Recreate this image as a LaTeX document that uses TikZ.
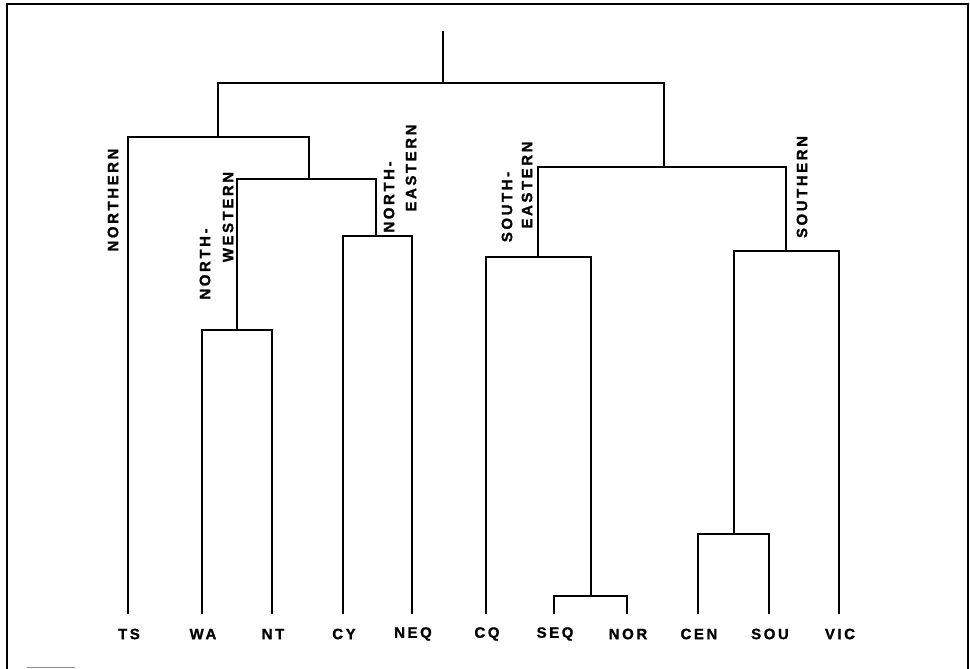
\documentclass[tikz,border=0pt]{standalone}
\usepackage{fontspec}
\newfontfamily\labfont[LetterSpace=17,FakeBold=1.2]{Liberation Sans Bold}
\begin{document}
\begin{tikzpicture}[x=1pt,y=-1pt,
  link/.style={line width=2.2pt,line join=miter,line cap=rect},
  frameline/.style={line width=1.5pt},
  leaflab/.style={font=\labfont\fontsize{15}{16}\selectfont,inner sep=0pt},
  grplab/.style={font=\labfont\fontsize{15}{16}\selectfont,inner sep=0pt,rotate=90}]
\useasboundingbox (0,0) rectangle (970,669);
% frame
\draw[frameline] (7,669) -- (7,4) -- (968,4) -- (968,669);
\draw[line width=0.6pt,black!45] (27,667) -- (75,667);
% leaves
\foreach \n/\x/\t in {ts/128/TS, wa/202/WA, nt/272/NT, cy/343/CY, neq/412/NEQ, cq/486/CQ, seq/554/SEQ, nor/627/NOR, cen/698/CEN, sou/769/SOU, vic/839/VIC}{
  \coordinate (\n) at (\x,613);
  \node[leaflab] (\n l) at (\x+1,634) {\t};
}
% merge points
\coordinate (m1) at (237,330);
\coordinate (m2) at (376,236);
\coordinate (m3) at (309,179);
\coordinate (m4) at (218,137);
\coordinate (m5) at (591,596);
\coordinate (m6) at (538,257);
\coordinate (m7) at (734,534);
\coordinate (m8) at (786,251);
\coordinate (m9) at (664,167);
\coordinate (m10) at (443,83);
\coordinate (root) at (443,32);
% links
\draw[link] (wa) |- (m1) -| (nt);
\draw[link] (cy) |- (m2) -| (neq);
\draw[link] (m1) |- (m3) -| (m2);
\draw[link] (ts) |- (m4) -| (m3);
\draw[link] (seq) |- (m5) -| (nor);
\draw[link] (cq) |- (m6) -| (m5);
\draw[link] (cen) |- (m7) -| (sou);
\draw[link] (m7) |- (m8) -| (vic);
\draw[link] (m6) |- (m9) -| (m8);
\draw[link] (m4) |- (m10) -| (m9);
\draw[link] (m10) -- (root);
% group labels
\node[grplab] (lnorth) at (113,200) {NORTHERN};
\node[grplab] (lnw1) at (205,264) {NORTH-};
\node[grplab] (lnw2) at (228,217) {WESTERN};
\node[grplab] (lne1) at (389,197) {NORTH-};
\node[grplab] (lne2) at (411,168) {EASTERN};
\node[grplab] (lse1) at (507,207) {SOUTH-};
\node[grplab] (lse2) at (527,185) {EASTERN};
\node[grplab] (lsouth) at (802,187) {SOUTHERN};
\end{tikzpicture}
\end{document}
